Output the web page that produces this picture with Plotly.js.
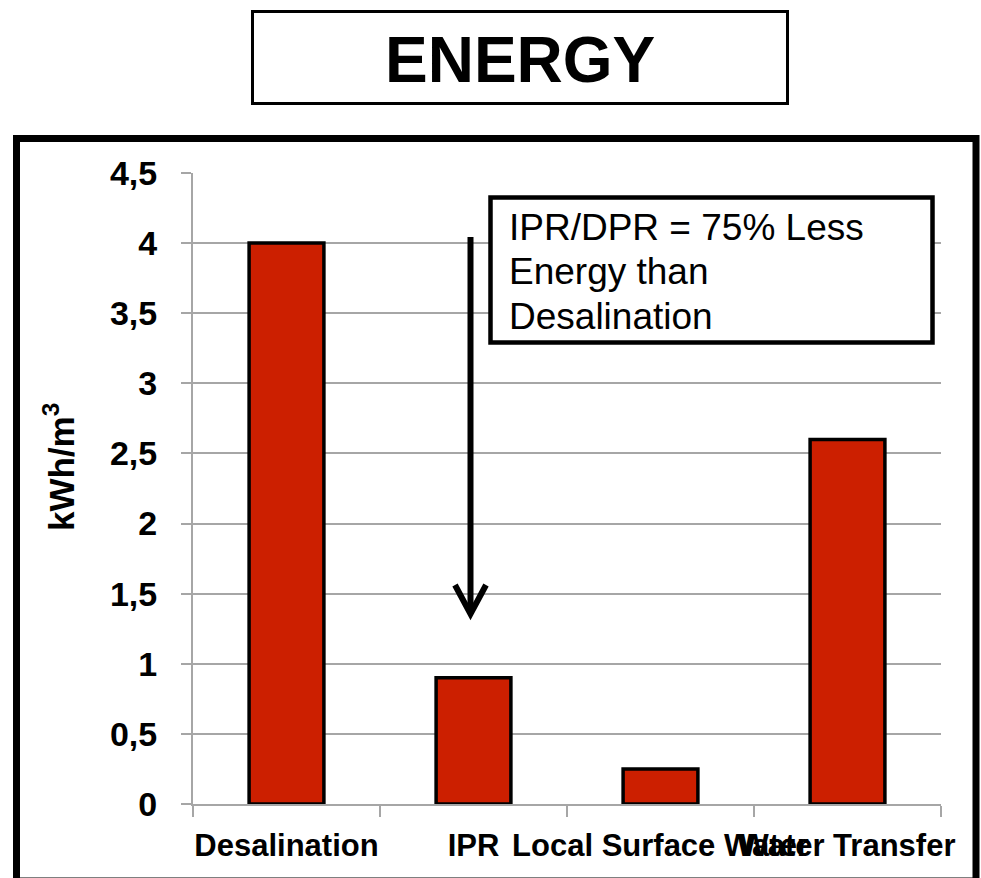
<!DOCTYPE html>
<html>
<head>
<meta charset="utf-8">
<script src="https://cdn.plot.ly/plotly-3.0.1.min.js"></script>
<style>
  html, body { margin: 0; padding: 0; background: #ffffff; }
  #chart { width: 981px; height: 878px; }
</style>
</head>
<body>
<div id="chart"></div>
<script>
// Energy needed per cubic metre of water, by supply option
const categories = ['Desalination', 'IPR', 'Local Surface Water', 'Water Transfer'];
const energyKWhPerM3 = [4.0, 0.9, 0.25, 2.6];

// Value axis ticks (comma as decimal separator)
const yTickVals = [0, 0.5, 1, 1.5, 2, 2.5, 3, 3.5, 4, 4.5];
const yTickText = ['0', '0,5', '1', '1,5', '2', '2,5', '3', '3,5', '4', '4,5'];

const chartTitle = 'ENERGY';
const yTitle = 'kWh/m<sup>3</sup>';
const noteLines = ['IPR/DPR = 75% Less', 'Energy than', 'Desalination'];

const W = 981, H = 878;
const M = { l: 193, r: 40, t: 173, b: 74 };
const FONT = 'Liberation Sans, Arial, Helvetica, sans-serif';

// page pixel -> paper coordinates (for the frame, boxes and callout)
const plotW = W - M.l - M.r, plotH = H - M.t - M.b;
const px = v => (v - M.l) / plotW;
const py = v => (H - M.b - v) / plotH;

const trace = {
  type: 'bar',
  x: categories,
  y: energyKWhPerM3,
  marker: { color: '#cc1f00', line: { color: '#000000', width: 3.5 } },
  hoverinfo: 'x+y'
};

const shapes = [
  // outer frame around the chart
  { type: 'rect', xref: 'paper', yref: 'paper',
    x0: px(16.5), x1: px(976), y0: py(138.5), y1: py(881),
    line: { color: '#000000', width: 7 } },
  // title box
  { type: 'rect', xref: 'paper', yref: 'paper',
    x0: px(252.5), x1: px(787.5), y0: py(11.5), y1: py(103.5),
    line: { color: '#000000', width: 3 }, fillcolor: '#ffffff' },
  // callout box
  { type: 'rect', xref: 'paper', yref: 'paper',
    x0: px(490.5), x1: px(932.5), y0: py(197.5), y1: py(342.5),
    line: { color: '#000000', width: 4.5 }, fillcolor: '#ffffff' },
  // downward arrow shaft
  { type: 'line', xref: 'paper', yref: 'paper',
    x0: px(470.5), x1: px(470.5), y0: py(237), y1: py(612),
    line: { color: '#000000', width: 6 } },
  // arrow head
  { type: 'path', xref: 'paper', yref: 'paper',
    path: 'M' + px(455) + ',' + py(585) + ' L' + px(470.5) + ',' + py(614) + ' L' + px(486) + ',' + py(585),
    line: { color: '#000000', width: 6 } }
];

const annotations = [
  { xref: 'paper', yref: 'paper', x: px(520), y: py(60), xanchor: 'center', yanchor: 'middle',
    text: '<b>' + chartTitle + '</b>', showarrow: false,
    font: { family: FONT, size: 64, color: '#000000' } },
  { xref: 'paper', yref: 'paper', x: px(59), y: py(467), xanchor: 'center', yanchor: 'middle',
    text: '<b>' + yTitle + '</b>', textangle: -90, showarrow: false,
    font: { family: FONT, size: 35, color: '#000000' } }
];
const noteY = [228, 271, 316];
noteLines.forEach((line, i) => {
  annotations.push({ xref: 'paper', yref: 'paper', x: px(507), y: py(noteY[i]),
    xanchor: 'left', yanchor: 'middle', text: line, showarrow: false,
    font: { family: FONT, size: 37, color: '#000000' } });
});

const layout = {
  width: W, height: H,
  margin: M,
  paper_bgcolor: '#ffffff',
  plot_bgcolor: '#ffffff',
  showlegend: false,
  bargap: 0.6,
  xaxis: {
    type: 'category',
    tickson: 'boundaries',
    ticks: 'outside', ticklen: 11, tickwidth: 2, tickcolor: '#a6a6a6',
    showline: true, linecolor: '#a6a6a6', linewidth: 2,
    showgrid: false, tickangle: 0,
    ticklabelstandoff: 13,
    tickfont: { family: FONT, size: 31, color: '#000000', weight: 'bold' },
    fixedrange: true
  },
  yaxis: {
    range: [0, 4.5],
    tickmode: 'array', tickvals: yTickVals, ticktext: yTickText,
    ticks: 'outside', ticklen: 10, tickwidth: 2, tickcolor: '#a6a6a6',
    showline: true, linecolor: '#a6a6a6', linewidth: 2,
    showgrid: true, gridcolor: '#a6a6a6', gridwidth: 2,
    zeroline: false,
    ticklabelstandoff: 17,
    tickfont: { family: FONT, size: 34, color: '#000000', weight: 'bold' },
    fixedrange: true
  },
  shapes: shapes,
  annotations: annotations
};

Plotly.newPlot('chart', [trace], layout, { displayModeBar: false, staticPlot: true });
</script>
</body>
</html>
